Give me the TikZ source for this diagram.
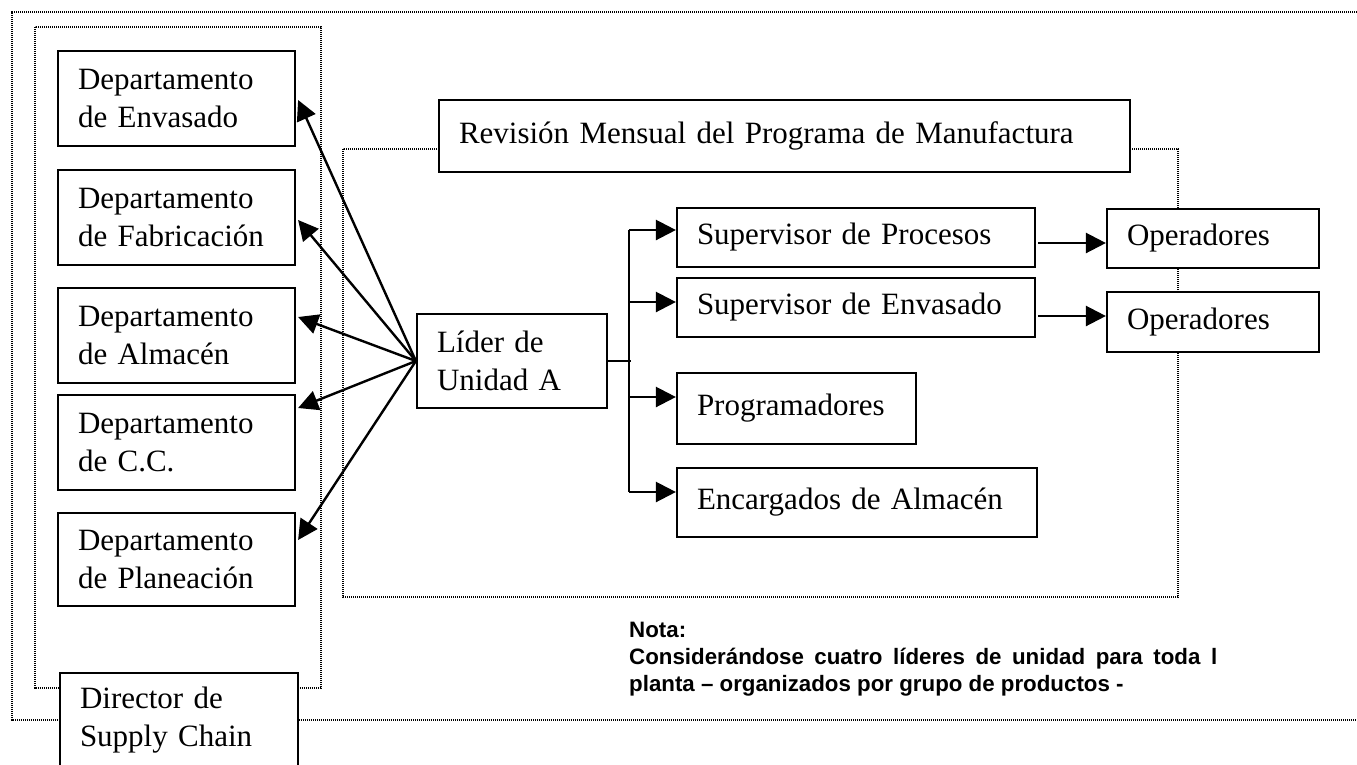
\documentclass[tikz,border=0pt]{standalone}
\usepackage{fontspec}
\setmainfont{Liberation Serif}
\newfontfamily\notafont{Liberation Sans}
\usetikzlibrary{arrows.meta,calc}
\tikzset{
  bx/.style={draw, fill=white, line width=2.2pt, inner xsep=20pt, inner ysep=0pt,
             align=left, font=\fontsize{31}{38}\selectfont},
  dotline/.style={line width=2.2pt, dash pattern=on 1.2pt off 0.8pt},
  ln/.style={line width=2.4pt},
  arr/.style={line width=2.4pt, -{Triangle[length=20pt,width=20pt]}},
  nota/.style={font=\notafont\fontsize{22.3}{27}\selectfont\bfseries, inner sep=0pt}
}
\newcommand\bxnode[6]{%
  \pgfmathsetmacro\bxcx{(#2+#4)/2}\pgfmathsetmacro\bxcy{(#3+#5)/2}%
  \pgfmathsetmacro\bxw{#4-#2}\pgfmathsetmacro\bxh{#5-#3}\pgfmathsetmacro\bxtw{#4-#2-40}%
  \node[bx, minimum width=\bxw pt, minimum height=\bxh pt, text width=\bxtw pt] (#1) at (\bxcx,\bxcy) {#6};}
\begin{document}
\begin{tikzpicture}[x=1pt,y=-1pt]
\useasboundingbox (0,0) rectangle (1357,764);
\clip (0,0) rectangle (1357,764);
% dotted frames
\draw[dotline] (1365,12) -- (12,12) -- (12,720) -- (1365,720);
\draw[dotline] (35,27) rectangle (321,688);
\draw[dotline] (343,149) rectangle (1178,597);
% boxes
\bxnode{env}{58}{51}{295}{146}{Departamento\\de Envasado}
\bxnode{fab}{58}{170}{295}{265}{Departamento\\de Fabricación}
\bxnode{alm}{58}{288}{295}{383}{Departamento\\de Almacén}
\bxnode{cc}{58}{395}{295}{490}{Departamento\\de C.C.}
\bxnode{pla}{58}{513}{295}{606}{Departamento\\de Planeación}
\bxnode{dir}{60}{673}{298}{768}{Director de\\Supply Chain}
\bxnode{rev}{439}{100}{1130}{172}{Revisión Mensual del Programa de Manufactura}
\bxnode{lid}{417}{314}{607}{408}{Líder de\\Unidad A}
\bxnode{sp}{677}{208}{1035}{267}{Supervisor de Procesos}
\bxnode{se}{677}{278}{1035}{337}{Supervisor de Envasado}
\bxnode{prog}{677}{373}{916}{444}{Programadores}
\bxnode{enc}{677}{468}{1037}{537}{Encargados de Almacén}
\bxnode{op1}{1107}{209}{1319}{268}{Operadores}
\bxnode{op2}{1107}{292}{1319}{352}{Operadores}
% arrows from leader to departments
\draw[arr] (lid.west) -- ($(env.east)+(2,1.5)$);
\draw[arr] (lid.west) -- ($(fab.east)+(2,2.5)$);
\draw[arr] (lid.west) -- ($(alm.east)+(2,-18.5)$);
\draw[arr] (lid.west) -- ($(cc.east)+(2,-34.5)$);
\draw[arr] (lid.west) -- ($(pla.east)+(2,-19.5)$);
% branch to supervisors
\coordinate (bj) at ($(lid.east)+(23,0)$);
\draw[ln] (lid.east) -- (bj);
\draw[ln] ($(sp.west)+(-47,-7.5)$) -- ($(enc.west)+(-47,-10.5)$);
\draw[arr] ($(sp.west)+(-47,-7.5)$) -- ($(sp.west)+(0,-7.5)$);
\draw[arr] ($(se.west)+(-47,-5.5)$) -- ($(se.west)+(0,-5.5)$);
\draw[arr] ($(prog.west)+(-47,-11.5)$) -- ($(prog.west)+(0,-11.5)$);
\draw[arr] ($(enc.west)+(-47,-10.5)$) -- ($(enc.west)+(0,-10.5)$);
% to operators
\draw[arr] ($(sp.east)+(2,5.5)$) coordinate (o1) -- (o1 -| op1.west);
\draw[arr] ($(se.east)+(2,8.5)$) coordinate (o2) -- (o2 -| op2.west);
% note
\node[nota, anchor=base west] (n1) at (629,637) {Nota:};
\node[nota, anchor=base west] (n2) at (629,664) {\makebox[588pt][s]{Considerándose cuatro líderes de unidad para toda l}};
\node[nota, anchor=base west] (n3) at (629,691) {planta – organizados por grupo de productos -};
\end{tikzpicture}
\end{document}
